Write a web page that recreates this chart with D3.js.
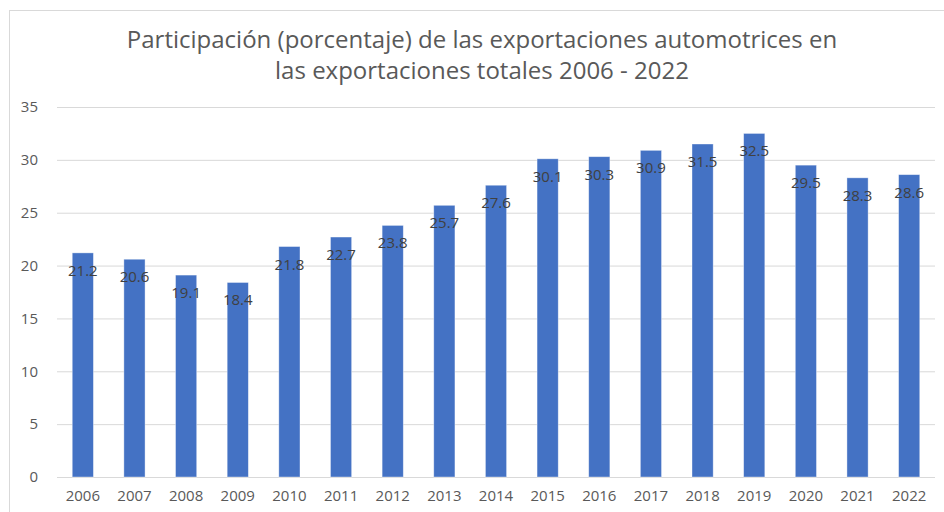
<html>
    <head>
        <meta charset="utf-8">
        <script src="https://d3js.org/d3.v7.min.js"></script>
        <style>
            body { margin: 0; background: #fff; }
            text { font-family: "Open Sans", "Noto Sans", sans-serif; }
            .gridlines line { stroke: #d9d9d9; }
            .gridlines .domain { stroke: none; }
            .axis .domain, .axis line { stroke: none; }
            .axis text { fill: #595959; font-size: 15px; }
        </style>
    </head>
    <body>
        <svg height="512" width="944" id="bars"></svg>

        <script>
            const years = ["2006","2007","2008","2009","2010","2011","2012","2013","2014",
                           "2015","2016","2017","2018","2019","2020","2021","2022"];
            const shares = [21.2, 20.6, 19.1, 18.4, 21.8, 22.7, 23.8, 25.7, 27.6,
                            30.1, 30.3, 30.9, 31.5, 32.5, 29.5, 28.3, 28.6];
            const yTicks = [0, 5, 10, 15, 20, 25, 30, 35];
            const titleLines = ["Participación (porcentaje) de las exportaciones automotrices en",
                                "las exportaciones totales 2006 - 2022"];

            const svg = d3.select("#bars");
            const width = +svg.attr("width");
            const height = +svg.attr("height");

            let margin = { "top": 107, "right": 9, "bottom": 35, "left": 57 };
            const chartWidth = width - margin.left - margin.right;
            const chartHeight = height - margin.top - margin.bottom;

            // chart border (right and bottom fall outside the picture)
            svg.append("rect")
                .attr("x", 9.5).attr("y", 10.5)
                .attr("width", 960).attr("height", 520)
                .attr("fill", "none")
                .attr("stroke", "#d9d9d9");

            svg.selectAll("text.title").data(titleLines)
                .join("text")
                .attr("class", "title")
                .attr("x", 482)
                .attr("y", (d, i) => 48 + i * 31)
                .attr("text-anchor", "middle")
                .attr("fill", "#595959")
                .style("font-size", "24px")
                .text(d => d);

            let yScale = d3.scaleLinear().domain([0, 35]).range([chartHeight, 0]);
            let xScale = d3.scaleBand()
                .domain(years)
                .range([0, chartWidth])
                .paddingInner(0.59)
                .paddingOuter(0.295);

            let leftGridlines = d3.axisLeft(yScale)
                .tickValues(yTicks)
                .tickSize(-chartWidth)
                .tickFormat('');
            svg.append('g')
                .attr('class', 'gridlines')
                .attr('transform', `translate(${margin.left},${margin.top})`)
                .call(leftGridlines);

            let leftAxis = d3.axisLeft(yScale).tickValues(yTicks).tickSize(0).tickPadding(19);
            svg.append('g')
                .attr('class', 'y axis')
                .attr('transform', `translate(${margin.left},${margin.top})`)
                .call(leftAxis);

            let bottomAxis = d3.axisBottom(xScale).tickSize(0).tickPadding(13);
            svg.append('g')
                .attr('class', 'x axis')
                .attr('transform', `translate(${margin.left},${margin.top + chartHeight})`)
                .call(bottomAxis);

            const chart = svg.append('g')
                .attr('transform', `translate(${margin.left},${margin.top})`);

            chart.selectAll("rect.bar").data(years)
                .join("rect")
                .attr("class", "bar")
                .attr("x", d => xScale(d))
                .attr("y", (d, i) => yScale(shares[i]))
                .attr("width", xScale.bandwidth())
                .attr("height", (d, i) => chartHeight - yScale(shares[i]))
                .attr("fill", "#4472c4")
                .attr("stroke", "#ffffff")
                .attr("stroke-opacity", 0.5)
                .attr("stroke-width", 0.75);

            // value labels sit just inside the top of each bar
            chart.selectAll("text.label").data(years)
                .join("text")
                .attr("class", "label")
                .attr("x", d => xScale(d) + xScale.bandwidth() / 2)
                .attr("y", (d, i) => yScale(shares[i]) + 23)
                .attr("text-anchor", "middle")
                .attr("fill", "#404040")
                .style("font-size", "15px")
                .text((d, i) => shares[i].toFixed(1));
        </script>
    </body>
</html>
